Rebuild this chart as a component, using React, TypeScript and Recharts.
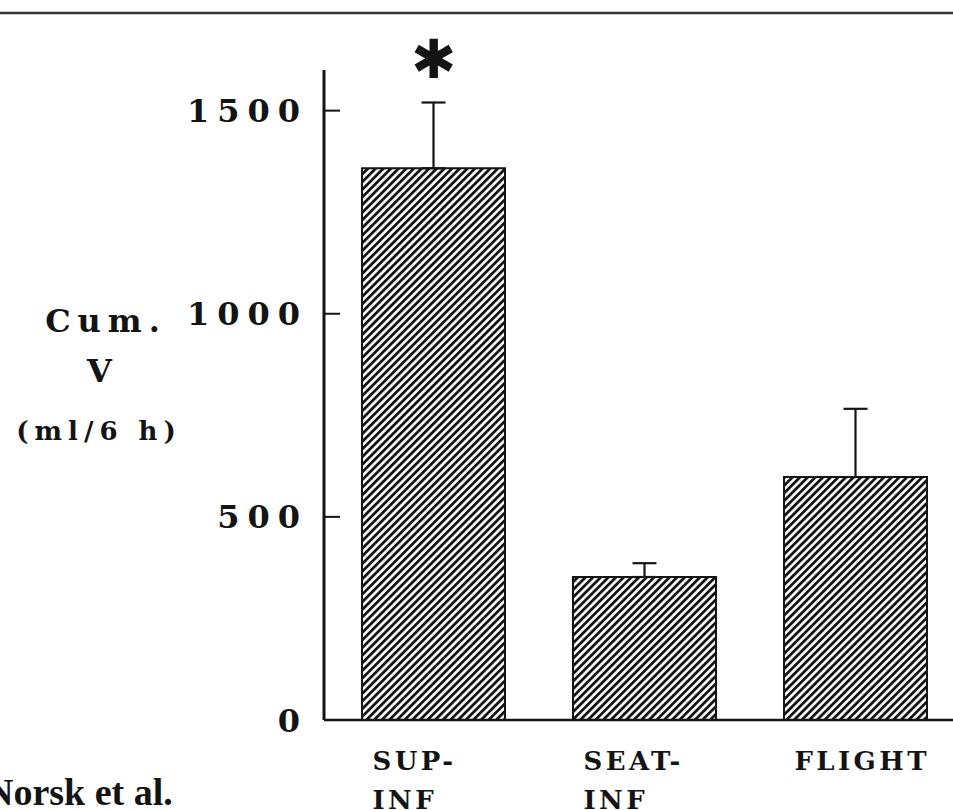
import React from 'react';
import { BarChart, Bar, XAxis, YAxis, ErrorBar, LabelList } from 'recharts';

// cumulated urine volume, ml per 6 h
const groups = ['SUP-INF', 'SEAT-INF', 'FLIGHT'];
const labelTop = ['SUP-', 'SEAT-', 'FLIGHT'];
const labelBottom = ['INF', 'INF', ''];
const cumVolume = [1358, 352, 598];
const semUpper = [162, 34, 168];
const marks = ['✱', '', ''];
const yTicks = [0, 500, 1000, 1500];

const data = groups.map((g, i) => ({
    group: g,
    vol: cumVolume[i],
    err: [0, semUpper[i]],
    mark: marks[i],
}));

const INK = '#141414';
const TYPE = '"DejaVu Serif", "Liberation Serif", serif';

const YTick = (props: any) => {
    const { x, y, payload } = props;
    return (
        <g>
            <line x1={x} y1={y} x2={x + 16} y2={y} stroke={INK} strokeWidth={2} />
            <text
                x={x - 16}
                y={y}
                dy="0.36em"
                textAnchor="end"
                fontFamily={TYPE}
                fontWeight="bold"
                fontSize={32}
                letterSpacing={8}
                fill={INK}
            >
                {payload.value}
            </text>
        </g>
    );
};

const XTick = (props: any) => {
    const { x, y, index } = props;
    return (
        <g fontFamily={TYPE} fontWeight="bold" fontSize={26} letterSpacing={3.4}>
            <text x={x - 61} y={y + 50} fill={INK}>{labelTop[index]}</text>
            <text x={x - 61} y={y + 89} fill={INK}>{labelBottom[index]}</text>
        </g>
    );
};

const YTitle = () => (
    <g fontFamily={TYPE} textAnchor="middle">
        <text x={106} y={332} fontSize={32} fontWeight="bold" letterSpacing={7} fill={INK}>Cum.</text>
        <text x={103} y={382} fontSize={32} fontWeight="bold" letterSpacing={7} fill={INK}>V</text>
        <text x={99} y={440} fontSize={26} fontWeight="bold" letterSpacing={6} fill={INK}>(ml/6 h)</text>
    </g>
);

const renderMark = (props: any) => {
    const { x, y, width, value } = props;
    if (!value) return null;
    return (
        <text
            x={Number(x) + Number(width) / 2}
            y={Number(y) - 109}
            textAnchor="middle"
            dominantBaseline="central"
            fontFamily="DejaVu Sans"
            fontWeight="bold"
            fontSize={54}
            fill={INK}
        >
            {value}
        </text>
    );
};

const App: React.FC = () => {
    return (
        <div style={{ position: 'absolute', left: 0, top: 0, width: 953, height: 810, overflow: 'hidden', background: '#fff' }}>
            <BarChart
                width={961}
                height={810}
                data={data}
                margin={{ top: 70, right: 0, bottom: 0, left: 0 }}
                barSize={143}
            >
                <defs>
                    <pattern id="hatch" patternUnits="userSpaceOnUse" width={5.4} height={5.4} patternTransform="rotate(45)">
                        <rect width={5.4} height={5.4} fill="#fff" />
                        <line x1={1.4} y1={0} x2={1.4} y2={5.4} stroke={INK} strokeWidth={2.8} />
                    </pattern>
                </defs>
                <XAxis
                    dataKey="group"
                    height={90}
                    axisLine={{ stroke: INK, strokeWidth: 2.5 }}
                    tickLine={false}
                    tickSize={0}
                    tickMargin={0}
                    interval={0}
                    padding={{ left: 4, right: 0 }}
                    tick={<XTick />}
                />
                <YAxis
                    domain={[0, 1600]}
                    ticks={yTicks}
                    width={324}
                    axisLine={{ stroke: INK, strokeWidth: 3 }}
                    tickLine={false}
                    tickSize={0}
                    tickMargin={0}
                    interval={0}
                    tick={<YTick />}
                    label={<YTitle />}
                />
                <Bar dataKey="vol" fill="url(#hatch)" stroke={INK} strokeWidth={2} isAnimationActive={false}>
                    <ErrorBar dataKey="err" width={12} stroke={INK} strokeWidth={2.2} direction="y" />
                    <LabelList dataKey="mark" content={renderMark} />
                </Bar>
            </BarChart>
            <svg style={{ position: 'absolute', left: 0, top: 0 }} width={953} height={810}>
                <line x1={0} y1={13} x2={953} y2={13} stroke="#333" strokeWidth={2.5} />
                <text x={-14} y={805} fontFamily='"Liberation Serif", serif' fontWeight="bold" fontSize={38} fill={INK}>
                    Norsk et al.
                </text>
            </svg>
        </div>
    );
};

export default App;
